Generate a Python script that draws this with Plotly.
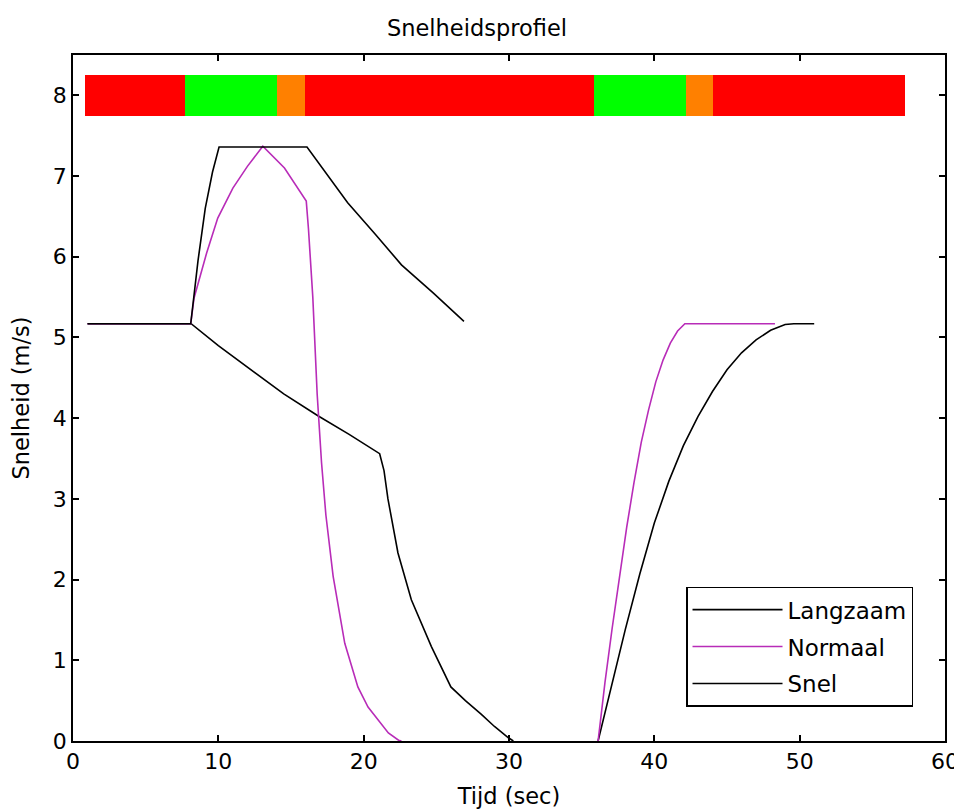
import plotly.graph_objects as go

# ---- data ----
langzaam_t = [1, 8.13, 10, 12.26, 14.5, 16.85, 19, 21.1, 21.4, 21.67, 22.36, 23.28, 24.66, 26.0, 27.0, 28.1, 29.0, 29.96, 30.3,
              None,
              36.13, 37.0, 38.0, 39.0, 40.0, 41.0, 42.0, 43.0, 44.0, 45.0, 46.0, 47.0, 48.0, 49.0, 49.6, 51.0]
langzaam_v = [5.17, 5.17, 4.9, 4.6, 4.3, 4.03, 3.8, 3.56, 3.35, 3.0, 2.33, 1.75, 1.17, 0.67, 0.5, 0.33, 0.18, 0.04, 0,
              None,
              0, 0.65, 1.38, 2.07, 2.7, 3.22, 3.66, 4.02, 4.33, 4.6, 4.81, 4.97, 5.09, 5.16, 5.17, 5.17]

normaal_t = [1, 8.1, 8.33, 9.2, 9.96, 11.0, 12.0, 13.06, 14.55, 16.05, 16.2, 16.5, 16.8, 17.1, 17.4, 17.9, 18.7, 19.6, 20.3, 21.0, 21.7, 22.4, 22.6,
             None,
             36.13, 36.6, 37.1, 37.6, 38.1, 38.6, 39.1, 39.6, 40.1, 40.6, 41.1, 41.6, 42.1, 48.3]
normaal_v = [5.17, 5.17, 5.49, 6.05, 6.48, 6.85, 7.12, 7.37, 7.1, 6.69, 6.35, 5.5, 4.3, 3.45, 2.8, 2.04, 1.21, 0.67, 0.42, 0.26, 0.1, 0.01, 0,
             None,
             0, 0.72, 1.4, 2.05, 2.65, 3.2, 3.7, 4.1, 4.45, 4.72, 4.93, 5.08, 5.17, 5.17]

snel_t = [1, 8.1, 8.6, 9.1, 9.6, 10.05, 16.1, 17.5, 18.9, 20.8, 22.6, 24.8, 26.9]
snel_v = [5.17, 5.17, 5.95, 6.6, 7.05, 7.36, 7.36, 7.02, 6.67, 6.28, 5.9, 5.55, 5.2]

# traffic light phases (start, end, colour)
phase_start = [0.83, 7.71, 14.04, 15.97, 35.86, 42.19, 44.05]
phase_end = [7.71, 14.04, 15.97, 35.86, 42.19, 44.05, 57.26]
phase_color = ["#ff0000", "#00ff00", "#ff8000", "#ff0000", "#00ff00", "#ff8000", "#ff0000"]
phase_level = 8

x_ticks = [0, 10, 20, 30, 40, 50, 60]
y_ticks = [0, 1, 2, 3, 4, 5, 6, 7, 8]

FONT = "DejaVu Sans"

fig = go.Figure()

fig.add_trace(go.Bar(
    orientation="h",
    y=[phase_level] * len(phase_start),
    base=phase_start,
    x=[e - s for s, e in zip(phase_start, phase_end)],
    width=0.5,
    marker=dict(color=phase_color, line=dict(width=0)),
    showlegend=False,
    hoverinfo="skip",
))

fig.add_trace(go.Scatter(x=langzaam_t, y=langzaam_v, mode="lines", name="Langzaam", legendgroup="a",
                         line=dict(color="black", width=1.6)))
fig.add_trace(go.Scatter(x=normaal_t, y=normaal_v, mode="lines", name="Normaal", legendgroup="b",
                         line=dict(color="#b82cb8", width=1.6)))
fig.add_trace(go.Scatter(x=snel_t, y=snel_v, mode="lines", name="Snel", legendgroup="c",
                         line=dict(color="black", width=1.6)))

axis_common = dict(
    showline=True, linecolor="black", linewidth=1.5, mirror="ticks",
    ticks="inside", ticklen=6, tickwidth=1.5, tickcolor="black",
    showgrid=False, zeroline=False, ticklabeloverflow="allow", automargin=False,
    tickfont=dict(family=FONT, size=22, color="black"),
)

fig.update_layout(
    width=954, height=809,
    margin=dict(l=73, r=9, t=55, b=68),
    paper_bgcolor="white", plot_bgcolor="white",
    font=dict(family=FONT, size=22, color="black"),
    title=dict(text="Snelheidsprofiel", x=0.5, xanchor="center", y=1 - 28 / 809, yanchor="middle",
               font=dict(family=FONT, size=22.5, color="black")),
    xaxis=dict(range=[0, 60], tickvals=x_ticks, ticktext=[str(v) for v in x_ticks],
               title=dict(text="Tijd (sec)", font=dict(family=FONT, size=22.5), standoff=16),
               **axis_common),
    yaxis=dict(range=[0, 8.5], tickvals=y_ticks, ticktext=[str(v) for v in y_ticks],
               title=dict(text="Snelheid (m/s)", font=dict(family=FONT, size=22.5), standoff=17),
               **axis_common),
    legend=dict(x=0.703, xanchor="left", y=0.05, yanchor="bottom",
                bordercolor="black", borderwidth=1.5, bgcolor="white",
                font=dict(family=FONT, size=23, color="black"),
                itemwidth=90, traceorder="grouped", tracegroupgap=4),
    showlegend=True,
    bargap=0,
)

fig.write_html("out.html")
